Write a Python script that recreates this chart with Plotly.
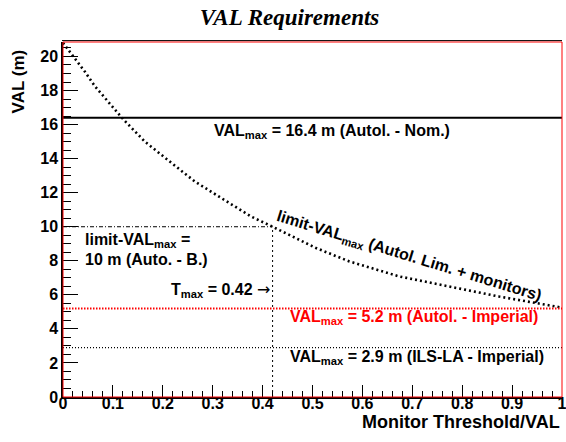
import plotly.graph_objects as go

# ---------------- data ----------------
# limit-VAL_max curve (Autol. Lim. + monitors)
thr = [0.0, 0.008, 0.024, 0.044, 0.064, 0.091, 0.121, 0.164, 0.217, 0.264,
       0.317, 0.377, 0.42, 0.507, 0.574, 0.674, 0.774, 0.874, 1.0]
limit_val = [20.8, 20.5, 19.9, 19.1, 18.25, 17.3, 16.3, 15.0, 13.75, 12.66,
             11.69, 10.6, 10.0, 8.75, 7.96, 7.08, 6.49, 5.9, 5.25]

val_nom = 16.4          # VAL_max Autol. - Nom.
val_imperial = 5.2      # VAL_max Autol. - Imperial
val_ils = 2.9           # VAL_max ILS-LA - Imperial
limit_val_max = 10.0    # limit-VAL_max Auto. - B.
t_max = 0.42            # T_max

x_span = [0.0, 1.0]
x_ticks = [0, 0.1, 0.2, 0.3, 0.4, 0.5, 0.6, 0.7, 0.8, 0.9, 1]
x_ticklabels = ["0", "0.1", "0.2", "0.3", "0.4", "0.5", "0.6", "0.7", "0.8", "0.9", "1"]
y_ticks = [0, 2, 4, 6, 8, 10, 12, 14, 16, 18, 20]
y_ticklabels = [str(v) for v in y_ticks]

FONT = "Liberation Sans, Arial, sans-serif"
BOLD = dict(family=FONT, weight="bold", color="black")

fig = go.Figure()

# limit-VAL curve
fig.add_trace(go.Scatter(x=thr, y=limit_val, mode="lines",
                         line=dict(color="black", width=2.6, dash="2px,3px"),
                         hoverinfo="skip"))
# horizontal requirement lines
fig.add_trace(go.Scatter(x=x_span, y=[val_nom, val_nom], mode="lines",
                         line=dict(color="black", width=2)))
fig.add_trace(go.Scatter(x=x_span, y=[val_imperial, val_imperial], mode="lines",
                         line=dict(color="#ff0000", width=2, dash="1.5px,1.5px")))
fig.add_trace(go.Scatter(x=x_span, y=[val_ils, val_ils], mode="lines",
                         line=dict(color="black", width=1.2, dash="1px,2px")))
# limit-VAL_max / T_max guides
fig.add_trace(go.Scatter(x=[0, t_max], y=[limit_val_max, limit_val_max], mode="lines",
                         line=dict(color="black", width=1, dash="4px,2px,1px,2px")))
fig.add_trace(go.Scatter(x=[t_max, t_max], y=[0, limit_val_max], mode="lines",
                         line=dict(color="black", width=1, dash="2px,3px")))

ann_font = dict(family=FONT, weight="bold", size=16, color="black")
arrow = "<span style='font-family:DejaVu Sans;font-weight:normal'>→</span>"
annotations = [
    dict(x=0.299, y=15.62, text="VAL<sub>max</sub> = 16.4 m (Autol. - Nom.)",
         xanchor="left", yanchor="middle", font=ann_font),
    dict(x=0.041, y=9.22, text="limit-VAL<sub>max</sub> =",
         xanchor="left", yanchor="middle", font=ann_font),
    dict(x=0.041, y=8.10, text="10 m (Auto. - B.)",
         xanchor="left", yanchor="middle", font=ann_font),
    dict(x=0.418, y=6.28, text="T<sub>max</sub> = 0.42 " + arrow,
         xanchor="right", yanchor="middle", font=ann_font),
    dict(x=0.693, y=8.25, text="limit-VAL<sub>max</sub> (Autol. Lim. + monitors)",
         xanchor="center", yanchor="middle", textangle=17, font=ann_font),
    dict(x=0.451, y=4.66, text="VAL<sub>max</sub> = 5.2 m (Autol. - Imperial)",
         xanchor="left", yanchor="middle", font=dict(ann_font, color="#ff0000")),
    dict(x=0.451, y=2.32, text="VAL<sub>max</sub> = 2.9 m (ILS-LA - Imperial)",
         xanchor="left", yanchor="middle", font=ann_font),
]
for a in annotations:
    a.update(xref="x", yref="y", showarrow=False)

# axis titles
annotations.append(dict(xref="paper", yref="paper", x=1.0, y=-0.07,
                        text="Monitor Threshold/VAL", xanchor="right", yanchor="middle",
                        showarrow=False, font=dict(BOLD, size=18)))
annotations.append(dict(xref="paper", yref="paper", x=-0.090, y=0.985,
                        text="VAL (m)", textangle=-90, xanchor="center", yanchor="top",
                        showarrow=False, font=dict(BOLD, size=17)))

shapes = [
    dict(type="rect", xref="paper", yref="paper", x0=0, x1=1, y0=0, y1=1,
         line=dict(color="#ff0000", width=1), layer="above"),
    dict(type="line", xref="paper", yref="paper", x0=-0.002, x1=1, y0=1.004, y1=1.004,
         line=dict(color="black", width=1), layer="above"),
]

fig.update_layout(
    width=566, height=442,
    margin=dict(l=63, r=4, t=42, b=45, pad=0, autoexpand=False),
    paper_bgcolor="white", plot_bgcolor="white",
    showlegend=False,
    title=dict(text="VAL Requirements", xref="container", yref="container",
               x=0.5115, y=0.962, xanchor="center", yanchor="middle",
               font=dict(family="Liberation Serif, Times New Roman, serif", size=23,
                         weight="bold", style="italic", color="black")),
    annotations=annotations,
    shapes=shapes,
)

fig.update_xaxes(range=[0, 1], showgrid=False, zeroline=False, automargin=False,
                 showline=True, linecolor="black", linewidth=2,
                 tickmode="array", tickvals=x_ticks, ticktext=x_ticklabels,
                 ticks="inside", ticklen=12, tickwidth=1, tickcolor="black",
                 tickfont=dict(BOLD, size=16), ticklabelstandoff=-9,
                 ticklabeloverflow="allow",
                 minor=dict(dtick=0.02, tick0=0, ticks="inside", ticklen=6,
                            tickwidth=1, tickcolor="black"))
fig.update_yaxes(range=[0, 20.85], showgrid=False, zeroline=False, automargin=False,
                 showline=True, linecolor="black", linewidth=1.5,
                 tickmode="array", tickvals=y_ticks, ticktext=y_ticklabels,
                 ticks="inside", ticklen=15, tickwidth=1, tickcolor="black",
                 tickfont=dict(BOLD, size=16),
                 minor=dict(dtick=0.5, tick0=0, ticks="inside", ticklen=8,
                            tickwidth=1, tickcolor="black"))

fig.write_html("out.html")
